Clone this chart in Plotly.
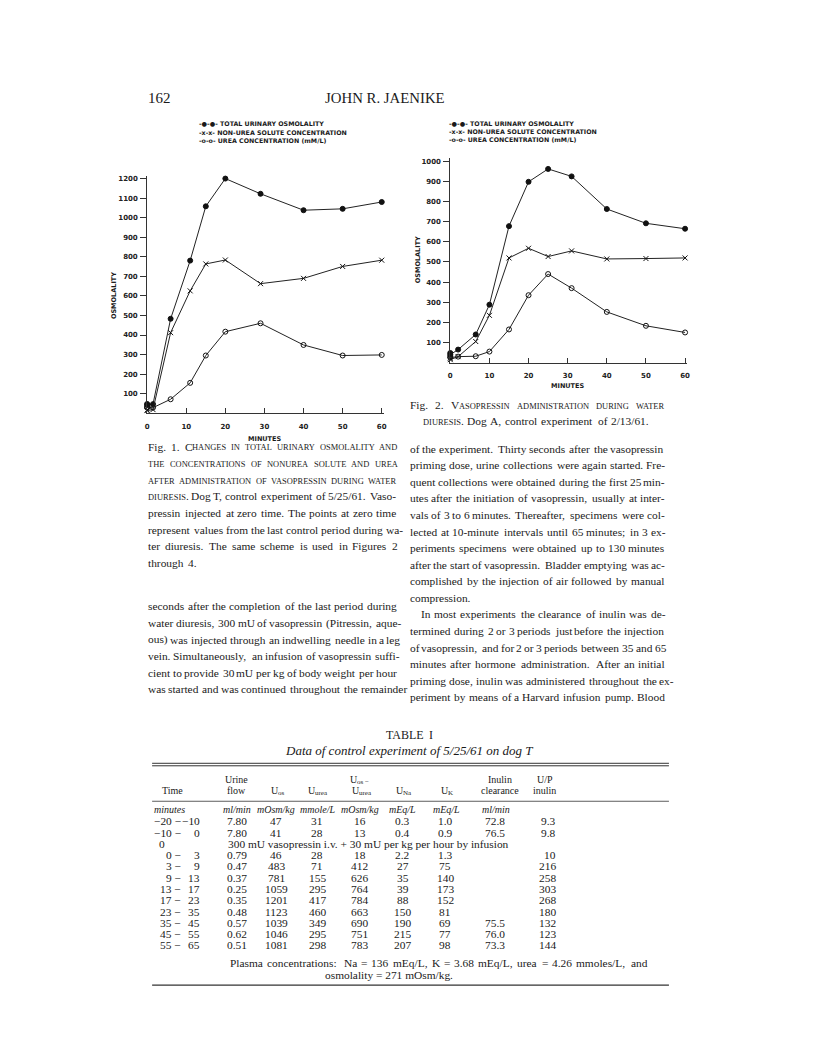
import plotly.graph_objects as go

W, H = 816, 1058
SERIF = "Liberation Serif"
SANS = "DejaVu Sans"
DX, DY = -9, -7  # global nudge of the whole page
BODY = 11.4
LEAD = 16.6
SC = 0.74  # small caps size ratio

# Fig. 1 - dog T (same numbers as table I, plotted at mid-period)
fig1_minutes = [0, 0, 1.5, 6, 11, 15, 20, 29, 40, 50, 60]
fig1_total = [47, 41, 46, 483, 781, 1059, 1201, 1123, 1039, 1046, 1081]
fig1_nonurea = [16, 13, 18, 412, 626, 764, 784, 663, 690, 751, 783]
fig1_urea = [31, 28, 28, 71, 155, 295, 417, 460, 349, 295, 298]

# Fig. 2 - dog A
fig2_minutes = [0, 0, 2, 6.5, 10, 15, 20, 25, 31, 40, 50, 60]
fig2_total = [48, 40, 65, 140, 288, 678, 898, 962, 925, 763, 692, 665]
fig2_nonurea = [22, 15, 30, 105, 235, 520, 568, 527, 555, 515, 517, 520]
fig2_urea = [30, 25, 30, 32, 55, 165, 335, 440, 370, 252, 183, 150]

x_ticks = [0, 10, 20, 30, 40, 50, 60]
fig1_yticks = [100, 200, 300, 400, 500, 600, 700, 800, 900, 1000, 1100, 1200]
fig2_yticks = [100, 200, 300, 400, 500, 600, 700, 800, 900, 1000]

legend_labels = ["TOTAL URINARY OSMOLALITY", "NON-UREA SOLUTE CONCENTRATION", "UREA CONCENTRATION (mM/L)"]
legend_marks = ["-\u25cf-\u25cf-", "-x-x-", "-o-o-"]

# table I
t_start = ["\u221220 \u2212", "\u221210 \u2212", "0", "0 \u2212", "3 \u2212", "9 \u2212", "13 \u2212", "17 \u2212", "23 \u2212", "35 \u2212", "45 \u2212", "55 \u2212"]
t_end = ["\u221210", "0", "", "3", "9", "13", "17", "23", "35", "45", "55", "65"]
t_flow = ["7.80", "7.80", "", "0.79", "0.47", "0.37", "0.25", "0.35", "0.48", "0.57", "0.62", "0.51"]
t_uos = ["47", "41", "", "46", "483", "781", "1059", "1201", "1123", "1039", "1046", "1081"]
t_uurea = ["31", "28", "", "28", "71", "155", "295", "417", "460", "349", "295", "298"]
t_diff = ["16", "13", "", "18", "412", "626", "764", "784", "663", "690", "751", "783"]
t_una = ["0.3", "0.4", "", "2.2", "27", "35", "39", "88", "150", "190", "215", "207"]
t_uk = ["1.0", "0.9", "", "1.3", "75", "140", "173", "152", "81", "69", "77", "98"]
t_inulin = ["72.8", "76.5", "", "", "", "", "", "", "", "75.5", "76.0", "73.3"]
t_up = ["9.3", "9.8", "", "10", "216", "258", "303", "268", "180", "132", "123", "144"]

# Times / Liberation Serif advance widths (per 1000 em)
TW = {" ": 250, "!": 333, "(": 333, ")": 333, "+": 564, ",": 250, "-": 333, ".": 250, "/": 278,
      ":": 278, ";": 278, "=": 564, "\u2212": 564}
TW.update({d: 500 for d in "0123456789"})
TW.update(dict(zip("ABCDEFGHIJKLMNOPQRSTUVWXYZ",
                   [722, 667, 667, 722, 611, 556, 722, 722, 333, 389, 722, 611, 889, 722, 722, 556,
                    722, 667, 556, 611, 722, 722, 944, 722, 722, 611])))
TW.update(dict(zip("abcdefghijklmnopqrstuvwxyz",
                   [444, 500, 444, 500, 444, 333, 500, 500, 278, 278, 500, 278, 778, 500, 500, 500,
                    500, 333, 389, 278, 500, 500, 722, 500, 500, 444])))


def px(x):
    return (x + DX) / W


def py(y):
    return 1 - (y + DY) / H


fig = go.Figure()


def txt(x, y, s, size=BODY, anchor="left", family=SERIF, color="#1a1a1a", **kw):
    fig.add_annotation(x=px(x), y=py(y), xref="paper", yref="paper", text=s, showarrow=False,
                       xanchor=anchor, yanchor="middle", align=anchor, borderpad=0,
                       font=dict(family=family, size=size, color=color), **kw)


def runs(word, smallcaps):
    # split a word into (is_small, text) pieces
    if not smallcaps:
        return [(False, word)]
    out = []
    for ch in word:
        small = ch.islower()
        if out and out[-1][0] == small:
            out[-1] = (small, out[-1][1] + ch)
        else:
            out.append((small, ch))
    return out


def piece_len(piece, s, small):
    tot = 0
    for c in piece:
        c = c.upper() if small else c
        tot += TW.get(c, 500) * (1.0 if c.isupper() else 1.05)
    return tot * s / 1000


def wlen(word, size, smallcaps=False):
    tot = 0
    for small, piece in runs(word, smallcaps):
        tot += piece_len(piece, size * SC if small else size, small)
    return tot


def put_word(x, y, word, size, smallcaps=False):
    for small, piece in runs(word, smallcaps):
        s = size * SC if small else size
        txt(x, y + 0.3 * (size - s), piece.upper() if small else piece, size=s)
        x += piece_len(piece, s, small) - (0.4 if not small and piece[-1].isupper() else 0)


def para(lines, x0, x1, y0, size=BODY, last_ragged=True, indents=None, lead=LEAD):
    indents = indents or {}
    for i, segs in enumerate(lines):
        words = []
        for text, smc in segs:
            words += [(w, smc) for w in text.split()]
        xs = x0 + indents.get(i, 0)
        widths = [wlen(w, size, s) for w, s in words]
        gap = 0.27 * size
        if not ((i == len(lines) - 1 and last_ragged) or len(words) < 2):
            gap = max(gap * 0.6, (x1 - xs - sum(widths)) / (len(words) - 1))
        x = xs
        for (w, s), wd in zip(words, widths):
            put_word(x, y0 + lead * i, w, size, s)
            x += wd + gap


def rule(x0, x1, y, width=1):
    fig.add_shape(type="line", xref="paper", yref="paper", x0=px(x0), x1=px(x1), y0=py(y), y1=py(y),
                  line=dict(color="#333", width=width))


def add_series(xs, ys, symbol, xa, ya, size=5):
    fig.add_trace(go.Scatter(x=xs, y=ys, mode="lines+markers", xaxis=xa, yaxis=ya, cliponaxis=False,
                             line=dict(color="#222", width=1),
                             marker=dict(symbol=symbol, size=size, color="#111",
                                         line=dict(color="#111", width=1)),
                             showlegend=False))


add_series(fig1_minutes, fig1_total, "circle", "x", "y")
add_series(fig1_minutes, fig1_nonurea, "x-thin", "x", "y")
add_series(fig1_minutes, fig1_urea, "circle-open", "x", "y")
add_series(fig2_minutes, fig2_total, "circle", "x2", "y2")
add_series(fig2_minutes, fig2_nonurea, "x-thin", "x2", "y2")
add_series(fig2_minutes, fig2_urea, "circle-open", "x2", "y2")

tickfont = dict(family=SANS, size=7, color="#222", weight="bold")
ax_common = dict(showgrid=False, zeroline=False, showline=True, linecolor="#333", linewidth=1,
                 tickfont=tickfont, tickcolor="#333")

fig.update_layout(
    width=W, height=H, margin=dict(l=0, r=0, t=0, b=0),
    paper_bgcolor="white", plot_bgcolor="white",
    xaxis=dict(domain=[px(147), px(385)], range=[0, 60.5], anchor="y", tickvals=x_ticks,
               ticks="inside", ticklen=5, ticklabelstandoff=6, **ax_common),
    yaxis=dict(domain=[py(411.5), py(174)], range=[0, 1215], anchor="x", tickvals=fig1_yticks,
               ticks="outside", ticklen=6, ticklabelstandoff=1, **ax_common),
    xaxis2=dict(domain=[px(452), px(690.6)], range=[0, 60.6], anchor="y2", tickvals=x_ticks,
                ticks="inside", ticklen=5, ticklabelstandoff=6, **ax_common),
    yaxis2=dict(domain=[py(361), py(156.4)], range=[0, 1015], anchor="x2", tickvals=fig2_yticks,
                ticks="outside", ticklen=6, ticklabelstandoff=1, **ax_common),
)

# chart labels
txt(113, 294, "<b>OSMOLALITY</b>", size=6.5, anchor="center", family=SANS, textangle=-90)
txt(265, 437, "<b>MINUTES</b>", size=6.5, anchor="center", family=SANS)
txt(419, 258, "<b>OSMOLALITY</b>", size=6.5, anchor="center", family=SANS, textangle=-90)
txt(570, 384, "<b>MINUTES</b>", size=6.5, anchor="center", family=SANS)

for i, lab in enumerate(legend_labels):
    txt(198, 122 + 8.5 * i, "<b>%s %s</b>" % (legend_marks[i], lab), size=6.3, family=SANS)
    txt(450, 122 + 8 * i, "<b>%s %s</b>" % (legend_marks[i], lab), size=6.3, family=SANS)

# running head
txt(147, 96, "162", size=15)
txt(386, 96, "JOHN R. JAENIKE", size=14.8, anchor="center")

# captions and running text ((text, small caps) segments per line)
cap1 = [
    [("Fig. 1.", False), ("Changes in total urinary osmolality and", True)],
    [("the concentrations of nonurea solute and urea", True)],
    [("after administration of vasopressin during water", True)],
    [("diuresis.", True), ("Dog T, control experiment of 5/25/61. Vaso-", False)],
    [("pressin injected at zero time. The points at zero time", False)],
    [("represent values from the last control period during wa-", False)],
    [("ter diuresis. The same scheme is used in Figures 2", False)],
    [("through 4.", False)],
]
para(cap1, 147, 398, 445)

cap2 = [
    [("Fig. 2.", False), ("Vasopressin administration during water", True)],
    [("diuresis.", True), ("Dog A, control experiment of 2/13/61.", False)],
]
para(cap2, 410, 668, 403, indents={1: 14})

left_par = [
    "seconds after the completion of the last period during",
    "water diuresis, 300 mU of vasopressin (Pitressin, aque-",
    "ous) was injected through an indwelling needle in a leg",
    "vein. Simultaneously, an infusion of vasopressin suffi-",
    "cient to provide 30 mU per kg of body weight per hour",
    "was started and was continued throughout the remainder",
]
para([[(s, False)] for s in left_par], 147, 398, 605, last_ragged=False)

right_par1 = [
    "of the experiment. Thirty seconds after the vasopressin",
    "priming dose, urine collections were again started. Fre-",
    "quent collections were obtained during the first 25 min-",
    "utes after the initiation of vasopressin, usually at inter-",
    "vals of 3 to 6 minutes. Thereafter, specimens were col-",
    "lected at 10-minute intervals until 65 minutes; in 3 ex-",
    "periments specimens were obtained up to 130 minutes",
    "after the start of vasopressin. Bladder emptying was ac-",
    "complished by the injection of air followed by manual",
    "compression.",
]
right_par2 = [
    "In most experiments the clearance of inulin was de-",
    "termined during 2 or 3 periods just before the injection",
    "of vasopressin, and for 2 or 3 periods between 35 and 65",
    "minutes after hormone administration. After an initial",
    "priming dose, inulin was administered throughout the ex-",
    "periment by means of a Harvard infusion pump. Blood",
]
para([[(s, False)] for s in right_par1], 410, 668, 447)
para([[(s, False)] for s in right_par2], 410, 668, 447 + LEAD * len(right_par1),
     last_ragged=False, indents={0: 12})

# table I
tw = wlen("TABLE", 12, True) + 4 + wlen("I", 12, True)
put_word(410 - tw / 2, 734, "TABLE", 12, True)
put_word(410 + tw / 2 - wlen("I", 12, True), 734, "I", 12, True)
txt(410, 749, "<i>Data of control experiment of 5/25/61 on dog T</i>", size=13, anchor="center")
rule(152, 672, 762, 1)
rule(152, 672, 764.5, 1)
rule(152, 672, 800, 0.8)
rule(152, 672, 984, 1.2)

HS = 10


def sub_label(xc, y, main, sub):
    w_main = wlen(main, HS)
    w_sub = wlen(sub, 7)
    x = xc - (w_main + w_sub) / 2
    txt(x, y, main, size=HS)
    txt(x + w_main, y + 3, sub, size=7)


txt(172, 789, "Time", size=HS, anchor="center")
txt(237, 778, "Urine", size=HS, anchor="center")
txt(237, 789, "flow", size=HS, anchor="center")
sub_label(277, 789, "U", "os")
sub_label(318, 789, "U", "urea")
sub_label(360, 778, "U", "os \u2212")
sub_label(362, 789, "U", "urea")
sub_label(404, 789, "U", "Na")
sub_label(448, 789, "U", "K")
txt(502, 778, "Inulin", size=HS, anchor="center")
txt(502, 789, "clearance", size=HS, anchor="center")
txt(547, 778, "U/P", size=HS, anchor="center")
txt(547, 789, "inulin", size=HS, anchor="center")

units = [(237, "ml/min"), (277, "mOsm/kg"), (318, "mmole/L"), (361, "mOsm/kg"),
         (404, "mEq/L"), (448, "mEq/L"), (498, "ml/min")]
txt(153, 808, "<i>minutes</i>", size=HS)
for x, u in units:
    txt(x, 808, "<i>%s</i>" % u, size=HS, anchor="center")

TS = 11.4
cols = [(237, t_flow), (277, t_uos), (318, t_uurea), (361, t_diff), (404, t_una), (447, t_uk), (497, t_inulin)]
for i in range(len(t_start)):
    yy = 820 + 11.3 * i
    if t_end[i]:
        txt(182, yy, t_start[i], size=TS, anchor="right")
        txt(201, yy, t_end[i], size=TS, anchor="right")
    else:
        txt(162, yy, t_start[i], size=TS, anchor="center")
        txt(227, yy, "300 mU vasopressin i.v. + 30 mU per kg per hour by infusion", size=TS)
    for x, vals in cols:
        if vals[i]:
            txt(x, yy, vals[i], size=TS, anchor="center")
    if t_up[i]:
        txt(559, yy, t_up[i], size=TS, anchor="right")

para([[("Plasma concentrations: Na = 136 mEq/L, K = 3.68 mEq/L, urea = 4.26 mmoles/L, and", False)]],
     229, 650, 962, size=TS, last_ragged=False)
txt(390, 974, "osmolality = 271 mOsm/kg.", size=TS, anchor="center")

fig.write_html("out.html")
